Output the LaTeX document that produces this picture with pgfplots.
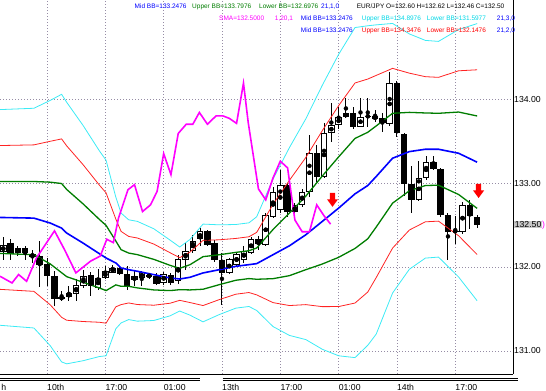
\documentclass[border=0pt]{standalone}
\usepackage{pgfplots}
\pgfplotsset{compat=1.18}
\usepackage{pgfplotstable}
\usepackage{graphicx}
\usepackage{fontspec}
\setmainfont{Liberation Sans}
\definecolor{bbgreen}{RGB}{0,125,0}
\definecolor{bbred}{RGB}{255,35,35}
\definecolor{bbcyan}{RGB}{60,235,245}
\definecolor{bbblue}{RGB}{0,0,255}
\definecolor{smamag}{RGB}{255,0,255}
\definecolor{gridc}{RGB}{150,140,165}
\definecolor{txtcyan}{RGB}{0,215,230}
\definecolor{lblgray}{RGB}{200,200,200}
\newcommand{\hdr}{\fontsize{6.5bp}{8bp}\selectfont}
\newcommand{\tkl}{\fontsize{8.7bp}{10bp}\selectfont}

\pgfplotstableread{
k o h l c
-6 132.174 132.356 132.087 132.265
-5 132.290 132.333 132.087 132.160
-4 132.170 132.253 132.127 132.226
-3 132.226 132.253 132.087 132.170
-2 132.158 132.206 132.048 132.120
-1 132.130 132.313 131.758 132.030
0 132.030 132.107 131.770 131.890
1 131.890 131.949 131.541 131.620
2 131.620 131.711 131.592 131.640
3 131.640 131.770 131.592 131.690
4 131.680 131.857 131.592 131.790
5 131.770 131.960 131.750 131.890
6 131.900 131.945 131.651 131.770
7 131.750 131.976 131.731 131.870
8 131.869 132.008 131.860 131.950
9 131.929 132.028 131.925 131.990
10 131.990 132.000 131.909 131.920
11 131.917 132.008 131.731 131.770
12 131.842 131.949 131.770 131.897
13 131.869 131.949 131.770 131.937
14 131.881 131.930 131.860 131.909
15 131.889 131.929 131.790 131.802
16 131.810 131.940 131.790 131.921
17 131.909 131.930 131.790 131.810
18 131.830 132.146 131.800 132.095
19 132.087 132.285 131.968 132.194
20 132.186 132.384 132.166 132.313
21 132.330 132.463 132.246 132.424
22 132.424 132.444 132.246 132.265
23 132.290 132.320 132.060 132.079
24 132.079 132.170 131.550 131.929
25 131.933 132.110 131.920 132.090
26 132.028 132.170 132.000 132.158
27 132.087 132.246 132.048 132.186
28 132.166 132.364 132.150 132.333
29 132.333 132.364 132.206 132.273
30 132.265 132.642 132.246 132.622
31 132.602 132.958 132.580 132.891
32 132.680 133.156 132.640 132.978
33 132.978 133.000 132.600 132.661
34 132.650 132.760 132.600 132.741
35 132.741 132.930 132.720 132.891
36 132.891 133.572 132.840 133.354
37 133.354 133.453 133.018 133.077
38 133.077 133.711 133.057 133.592
39 133.592 133.949 133.493 133.691
40 133.691 133.909 133.650 133.790
41 133.782 134.008 133.770 133.838
42 133.830 133.909 133.650 133.671
43 133.671 134.008 133.671 133.790
44 133.790 134.008 133.671 133.800
45 133.798 133.869 133.731 133.758
46 133.770 133.830 133.612 133.711
47 133.700 134.320 133.680 134.186
48 134.186 134.220 133.550 133.600
49 133.585 133.600 132.850 132.990
50 132.990 133.200 132.640 132.800
51 132.800 133.260 132.780 133.060
52 133.060 133.320 133.040 133.257
53 133.257 133.320 133.150 133.166
54 133.166 133.180 132.600 132.617
55 132.617 132.640 132.090 132.419
56 132.420 132.610 132.270 132.430
57 132.420 132.780 132.390 132.743
58 132.743 132.800 132.450 132.605
59 132.600 132.620 132.460 132.500
}\candles

\pgfplotstableread{
k m gu gl ru rl cu cl
-6.45 132.590 133.018 132.162 133.446 131.734 133.874 131.306
-1.8 132.582 133.018 132.146 133.454 131.710 133.890 131.274
0.45 132.523 133.010 132.036 133.497 131.549 133.984 131.062
2.0 132.463 132.994 131.932 133.525 131.401 134.056 130.870
2.7 132.404 132.923 131.885 133.442 131.366 133.961 130.847
4.94 132.285 132.752 131.818 133.219 131.351 133.686 130.884
7.19 132.158 132.566 131.750 132.974 131.342 133.382 130.934
8.1 132.107 132.495 131.719 132.883 131.331 133.271 130.943
9.44 132.048 132.309 131.787 132.570 131.526 132.831 131.265
10.16 131.988 132.206 131.770 132.424 131.552 132.642 131.334
11.2 131.968 132.166 131.770 132.364 131.572 132.562 131.374
12.4 131.949 132.147 131.751 132.345 131.553 132.543 131.355
14.65 131.909 132.091 131.727 132.273 131.545 132.455 131.363
16.9 131.869 132.019 131.719 132.169 131.569 132.319 131.419
18.2 131.857 131.984 131.730 132.111 131.603 132.238 131.476
19.6 131.877 132.027 131.727 132.177 131.577 132.327 131.427
21.4 131.929 132.123 131.735 132.317 131.541 132.511 131.347
23.64 131.968 132.146 131.790 132.324 131.612 132.502 131.434
25.9 132.008 132.174 131.842 132.340 131.676 132.506 131.510
27.7 132.028 132.194 131.862 132.360 131.696 132.526 131.530
28.76 132.040 132.226 131.854 132.412 131.668 132.598 131.482
31 132.146 132.446 131.861 132.746 131.576 133.046 131.291
33.26 132.253 132.643 131.897 133.033 131.541 133.423 131.185
35.5 132.384 132.844 131.968 133.304 131.552 133.764 131.136
37.75 132.542 133.082 132.035 133.622 131.528 134.162 131.021
40 132.701 133.311 132.115 133.921 131.529 134.531 130.943
42.25 132.871 133.531 132.221 134.191 131.571 134.851 130.921
44 132.970 133.604 132.336 134.238 131.702 134.872 131.068
45.15 133.077 133.679 132.475 134.281 131.873 134.883 131.200
47.4 133.295 133.830 132.760 134.365 132.225 134.900 131.690
49.7 133.374 133.841 132.907 134.308 132.440 134.775 131.973
51.9 133.402 133.834 132.970 134.266 132.538 134.698 132.106
53.7 133.402 133.830 132.974 134.258 132.546 134.686 132.118
56.46 133.354 133.845 132.863 134.336 132.372 134.827 131.881
59 133.248 133.798 132.698 134.348 132.148 134.898 131.598
}\bands

\pgfplotstableread{
k v
-6.45 131.89
-4.8 131.81
-3.9 131.91
-2.8 131.83
-1.44 132.11
1.03 132.43
2.38 132.21
3.96 131.93
5.98 132.07
7.3 132.13
8.2 132.33
9.1 132.29
9.8 132.58
11.1 132.92
12.0 132.98
13.1 132.66
14.2 132.74
15.1 132.90
16.0 133.35
17.0 133.10
18.0 133.59
19.1 133.70
20.0 133.70
20.9 133.84
22.0 133.70
23.2 133.80
24.1 133.80
25.0 133.77
26.0 133.71
26.95 134.19
27.6 133.72
29.0 132.93
30.0 132.80
31.0 133.06
32.0 133.26
33.0 133.18
34.0 132.56
35.0 132.42
36.0 132.42
37.0 132.74
38.0 132.61
38.9 132.51
}\sma

\pgfdeclareplotmark{darrow}{%
  \pgfpathmoveto{\pgfqpoint{-2.6bp}{7bp}}%
  \pgfpathlineto{\pgfqpoint{2.6bp}{7bp}}%
  \pgfpathlineto{\pgfqpoint{2.6bp}{0.5bp}}%
  \pgfpathlineto{\pgfqpoint{5.5bp}{0.5bp}}%
  \pgfpathlineto{\pgfqpoint{0bp}{-7bp}}%
  \pgfpathlineto{\pgfqpoint{-5.5bp}{0.5bp}}%
  \pgfpathlineto{\pgfqpoint{-2.6bp}{0.5bp}}%
  \pgfpathclose
  \pgfusepath{fill}}

\setlength{\fboxsep}{0.6bp}

\begin{document}
\begin{tikzpicture}
\begin{axis}[
  at={(0bp,17bp)}, anchor=south west,
  scale only axis, width=513bp, height=374bp,
  xmin=-6.45, xmax=63.92, ymin=130.726, ymax=135.179,
  axis x line*=bottom, axis y line*=right,
  axis line style={black, line width=1bp},
  xtick={0,8,16,24,32,40,48,56},
  xticklabels={10th,17:00,01:00,13th,17:00,01:00,14th,17:00},
  ytick={131,132,133,134},
  yticklabels={131.00,132.00,133.00,134.00},
  extra y ticks={132.5},
  extra y tick labels={\colorbox{lblgray}{132.50}\textcolor{smamag}{)}},
  extra y tick style={grid=none},
  extra x ticks={-6.3},
  extra x tick labels={h},
  extra x tick style={grid=none},
  major tick length=0pt,
  grid=major,
  major grid style={gridc, line width=0.8bp, dash pattern=on 1bp off 2bp},
  x tick label style={anchor=base west, inner sep=0pt, yshift=-16.3bp, font=\tkl},
  y tick label style={anchor=west, inner sep=0pt, xshift=1bp, font=\tkl},
]
% candles: wicks
\addplot[only marks, mark=none, forget plot,
  error bars/.cd, y dir=both, y explicit, error mark=none,
  error bar style={line width=1bp, black}]
  table[x=k, y expr={(\thisrow{h}+\thisrow{l})/2}, y error expr={(\thisrow{h}-\thisrow{l})/2}] {\candles};
% bodies (black)
\addplot[only marks, mark=none, forget plot,
  error bars/.cd, y dir=both, y explicit, error mark=none,
  error bar style={line width=6.5bp, black}]
  table[x=k, y expr={(\thisrow{o}+\thisrow{c})/2}, y error expr={max(abs(\thisrow{o}-\thisrow{c})/2,0.006)}] {\candles};
% bodies (white interior for rising candles)
\addplot[only marks, mark=none, forget plot,
  error bars/.cd, y dir=both, y explicit, error mark=none,
  error bar style={line width=4.5bp, white}]
  table[x=k, y expr={(\thisrow{o}+\thisrow{c})/2}, y error expr={max((\thisrow{c}-\thisrow{o})/2-0.012,0)}] {\candles};
% Bollinger bands
\addplot[bbcyan, line width=0.8bp, mark=none] table[x=k, y=cu] {\bands};
\addplot[bbcyan, line width=0.8bp, mark=none] table[x=k, y=cl] {\bands};
\addplot[bbred, line width=0.8bp, mark=none] table[x=k, y=ru] {\bands};
\addplot[bbred, line width=0.8bp, mark=none] table[x=k, y=rl] {\bands};
\addplot[bbgreen, line width=1.3bp, mark=none] table[x=k, y=gu] {\bands};
\addplot[bbgreen, line width=1.3bp, mark=none] table[x=k, y=gl] {\bands};
\addplot[bbblue, line width=1.6bp, mark=none] table[x=k, y=m] {\bands};
% SMA line
\addplot[smamag, line width=1.6bp, mark=none] table[x=k, y=v] {\sma};
% signal arrows
\addplot[only marks, mark=darrow, red, fill=red] coordinates {(39.16,132.80) (59.2,132.905)};
\end{axis}
% header text
\begin{scope}[every node/.style={inner sep=0pt, anchor=base west, font=\hdr}]
\node[text=bbblue] at (134.5bp,382.2bp) {Mid BB=133.2476};
\node[text=bbgreen] at (192bp,382.2bp) {Upper BB=133.7976};
\node[text=bbgreen] at (259bp,382.2bp) {Lower BB=132.6976};
\node[text=bbblue] at (321bp,382.2bp) {21,1,0};
\node[text=black] at (356.7bp,382.2bp) {EUR/JPY O=132.60 H=132.62 L=132.46 C=132.50};
\node[text=smamag] at (219bp,370.7bp) {SMA=132.5000};
\node[text=smamag] at (274.7bp,370.7bp) {1,20,1};
\node[text=bbblue] at (300.7bp,370.7bp) {Mid BB=133.2476};
\node[text=txtcyan] at (361.7bp,370.7bp) {Upper BB=134.8976};
\node[text=txtcyan] at (426.7bp,370.7bp) {Lower BB=131.5977};
\node[text=bbblue] at (496.7bp,370.7bp) {21,3,0};
\node[text=bbblue] at (300.7bp,358.7bp) {Mid BB=133.2476};
\node[text=red] at (361.7bp,358.7bp) {Upper BB=134.3476};
\node[text=red] at (426.7bp,358.7bp) {Lower BB=132.1476};
\node[text=bbblue] at (496.7bp,358.7bp) {21,2,0};
\end{scope}
% time-scale double rules
\draw[black, line width=0.8bp] (0bp,12.8bp) -- (200bp,12.8bp);
\draw[black, line width=0.8bp] (0bp,10.3bp) -- (200bp,10.3bp);
\draw[black, line width=0.8bp] (222.5bp,12.8bp) -- (518bp,12.8bp);
\draw[black, line width=0.8bp] (222.5bp,10.3bp) -- (518bp,10.3bp);
\pgfresetboundingbox
\path[use as bounding box] (0bp,0bp) rectangle (546bp,391bp);
\end{tikzpicture}
\end{document}
